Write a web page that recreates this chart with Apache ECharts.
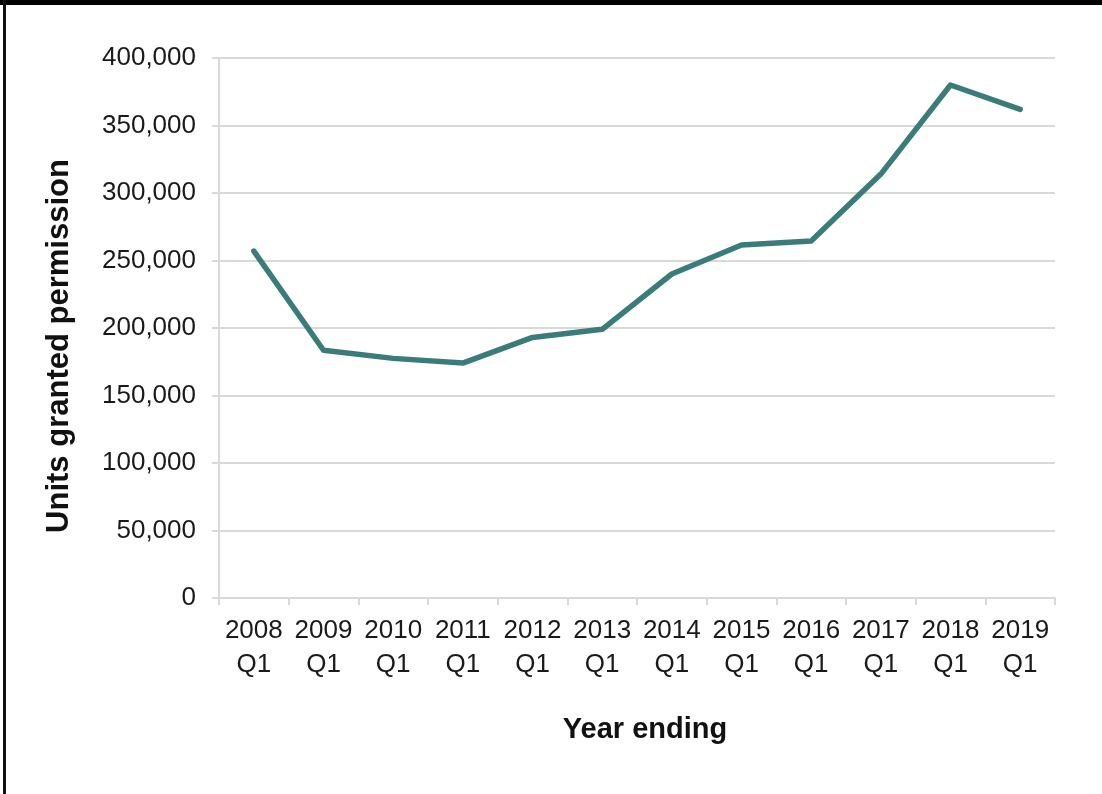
<!DOCTYPE html>
<html>
<head>
<meta charset="utf-8">
<script src="https://cdn.jsdelivr.net/npm/echarts@6/dist/echarts.min.js"></script>
<style>
html,body{margin:0;padding:0;background:#fff;}
#chart{width:1102px;height:794px;}
</style>
</head>
<body>
<div id="chart"></div>
<script>
const categories = ['2008\nQ1','2009\nQ1','2010\nQ1','2011\nQ1','2012\nQ1','2013\nQ1','2014\nQ1','2015\nQ1','2016\nQ1','2017\nQ1','2018\nQ1','2019\nQ1'];
const unitsGranted = [257000,183500,177500,174000,193000,199000,240000,261500,264500,314000,380000,362000];
const yTicks = {min:0, max:400000, interval:50000};
const xTitle = 'Year ending';
const yTitle = 'Units granted permission';

const chart = echarts.init(document.getElementById('chart'), null, {renderer:'canvas'});
const font = '"Liberation Sans", Arial, sans-serif';
chart.setOption({
  animation:false,
  backgroundColor:'#ffffff',
  graphic:[
    {type:'rect', shape:{x:0,y:0,width:1102,height:5}, style:{fill:'#000'}},
    {type:'rect', shape:{x:3,y:0,width:3,height:794}, style:{fill:'#111'}},
    {type:'text', x:59, y:346, rotation:Math.PI/2,
      style:{text:yTitle, font:'bold 31px "Liberation Sans", Arial, sans-serif', fill:'#111', align:'center', verticalAlign:'middle'}},
    {type:'text', x:645, y:730,
      style:{text:xTitle, font:'bold 29px "Liberation Sans", Arial, sans-serif', fill:'#111', align:'center', verticalAlign:'middle'}}
  ],
  grid:{left:219, right:47, top:58, bottom:196, containLabel:false},
  xAxis:{
    type:'category',
    data:categories,
    boundaryGap:true,
    axisLine:{show:true, lineStyle:{color:'#d9d9d9', width:2}},
    axisTick:{show:true, length:7, alignWithLabel:false, lineStyle:{color:'#d9d9d9', width:2}},
    axisLabel:{fontFamily:font, fontSize:26, color:'#1a1a1a', lineHeight:34, margin:16, interval:0}
  },
  yAxis:{
    type:'value',
    min:yTicks.min, max:yTicks.max, interval:yTicks.interval,
    axisLine:{show:true, lineStyle:{color:'#d9d9d9', width:2}},
    axisTick:{show:true, length:7, lineStyle:{color:'#d9d9d9', width:2}},
    splitLine:{show:true, lineStyle:{color:'#d9d9d9', width:2}},
    axisLabel:{fontFamily:font, fontSize:26, color:'#1a1a1a', margin:23,
      formatter:function(v){return v.toLocaleString('en-US');}}
  },
  series:[{
    type:'line',
    data:unitsGranted,
    symbol:'none',
    lineStyle:{color:'#3a7c7a', width:5.5, cap:'round', join:'round'},
    itemStyle:{color:'#3a7c7a'}
  }]
});
</script>
</body>
</html>
